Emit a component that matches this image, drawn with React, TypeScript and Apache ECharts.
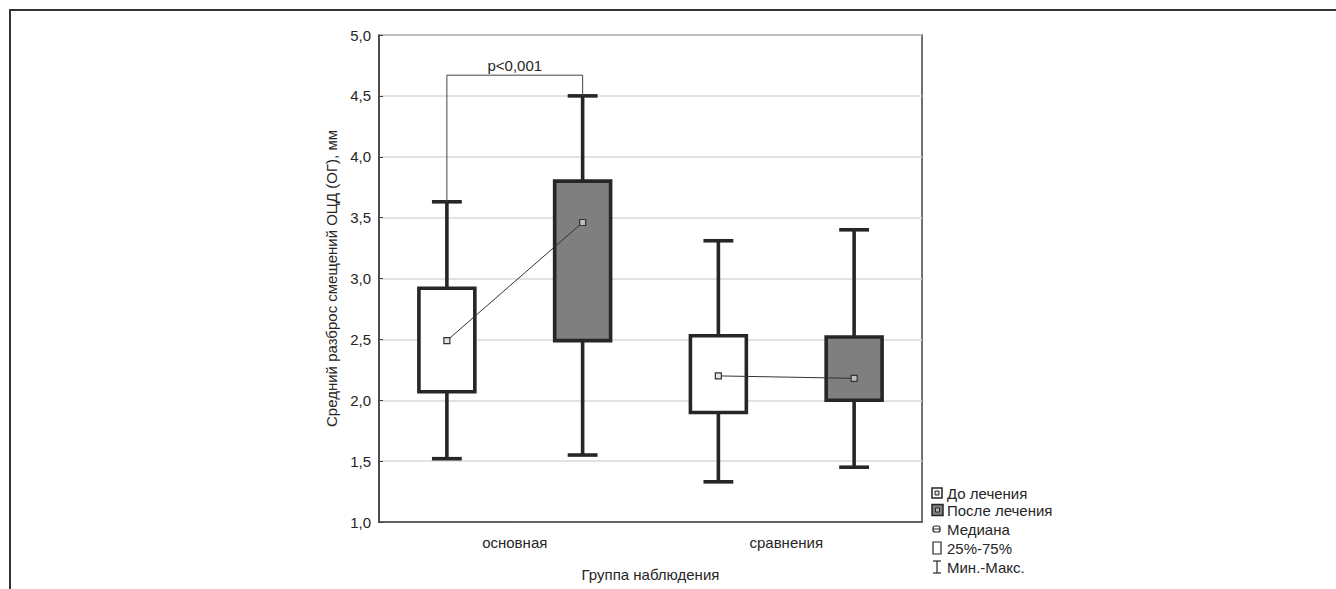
import React, { useEffect, useRef } from "react";
import * as echarts from "echarts";

const categories = ["основная", "сравнения"];
// [min, q1, median, q3, max]
const beforeStats = [
  [1.52, 2.07, 2.49, 2.92, 3.63],
  [1.33, 1.9, 2.2, 2.53, 3.31],
];
const afterStats = [
  [1.55, 2.49, 3.46, 3.8, 4.5],
  [1.45, 2.0, 2.18, 2.52, 3.4],
];
const bracketLevel = 4.67;
const pText = "p<0,001";
const legendItems = ["До лечения", "После лечения", "Медиана", "25%-75%", "Мин.-Макс."];
const yTicks = { min: 1, max: 5, interval: 0.5 };

const FONT = "'Liberation Sans', Arial, sans-serif";
const DARK = "#262626";
const TEXT = "#262626";
const GRAY_FILL = "#7f7f7f";
const OFFSET = 0.25;
const BOX_W = 0.206;
const CAP_W = 0.11;

function boxRender(offsetFrac: number, fill: string) {
  return (params: any, api: any) => {
    const cat = api.value(0);
    const band = api.size([1, 0])[0];
    const x = api.coord([cat, 1])[0] + offsetFrac * band;
    const y = (v: number) => api.coord([cat, v])[1];
    const yMin = y(api.value(1));
    const yQ1 = y(api.value(2));
    const yQ3 = y(api.value(4));
    const yMax = y(api.value(5));
    const bw = band * BOX_W;
    const cw = band * CAP_W;
    const st = { stroke: DARK, lineWidth: 3.6, fill: "none" };
    return {
      type: "group",
      children: [
        { type: "line", shape: { x1: x, y1: yMax, x2: x, y2: yQ3 }, style: st },
        { type: "line", shape: { x1: x, y1: yQ1, x2: x, y2: yMin }, style: st },
        { type: "line", shape: { x1: x - cw / 2, y1: yMax, x2: x + cw / 2, y2: yMax }, style: st },
        { type: "line", shape: { x1: x - cw / 2, y1: yMin, x2: x + cw / 2, y2: yMin }, style: st },
        {
          type: "rect",
          shape: { x: x - bw / 2, y: yQ3, width: bw, height: yQ1 - yQ3 },
          style: { fill, stroke: DARK, lineWidth: 3.6 },
        },
      ],
    };
  };
}

function medianRender(params: any, api: any) {
  const cat = api.value(0);
  const band = api.size([1, 0])[0];
  const cx = api.coord([cat, 1])[0];
  const x1 = cx - OFFSET * band;
  const x2 = cx + OFFSET * band;
  const y1 = api.coord([cat, api.value(1)])[1];
  const y2 = api.coord([cat, api.value(2)])[1];
  const s = 6;
  return {
    type: "group",
    children: [
      { type: "line", shape: { x1, y1, x2, y2 }, style: { stroke: "#333", lineWidth: 1 } },
      { type: "rect", shape: { x: x1 - s / 2, y: y1 - s / 2, width: s, height: s }, style: { fill: "#e6e6e6", stroke: "#333", lineWidth: 1.2 } },
      { type: "rect", shape: { x: x2 - s / 2, y: y2 - s / 2, width: s, height: s }, style: { fill: "#bdbdbd", stroke: "#333", lineWidth: 1.2 } },
    ],
  };
}

function bracketRender(params: any, api: any) {
  const cat = api.value(0);
  const band = api.size([1, 0])[0];
  const cx = api.coord([cat, 1])[0];
  const x1 = cx - OFFSET * band;
  const x2 = cx + OFFSET * band;
  const yA = api.coord([cat, api.value(1)])[1];
  const yB = api.coord([cat, api.value(2)])[1];
  const yT = api.coord([cat, api.value(3)])[1];
  return {
    type: "group",
    children: [
      {
        type: "polyline",
        shape: { points: [[x1, yA], [x1, yT], [x2, yT], [x2, yB]] },
        style: { stroke: "#444", lineWidth: 1, fill: "none" },
      },
      {
        type: "text",
        x: (x1 + x2) / 2,
        y: yT - 2,
        style: { text: pText, fill: TEXT, font: `15px ${FONT}`, textAlign: "center", textVerticalAlign: "bottom" },
      },
    ],
  };
}

export default function App() {
  const ref = useRef<HTMLDivElement>(null);
  useEffect(() => {
    document.body.style.margin = "0";
    if (!ref.current) return;
    const chart = echarts.init(ref.current, null, { renderer: "svg" });

    const boxData = (stats: number[][]) => stats.map((s, i) => [i, ...s]);
    const medianData = categories.map((_, i) => [i, beforeStats[i][2], afterStats[i][2]]);
    const bracketData = [[0, beforeStats[0][4], afterStats[0][4], bracketLevel]];

    const lx = 932;
    const rowY = [493, 510, 529, 548, 567];
    const legendGraphics: any[] = [
      {
        type: "polyline",
        shape: { points: [[10, 589], [10, 10], [1336, 10]] },
        style: { stroke: "#333", lineWidth: 2, fill: "none" },
      },
      { type: "rect", shape: { x: lx, y: rowY[0] - 5, width: 10, height: 10 }, style: { fill: "#fff", stroke: DARK, lineWidth: 1.5 } },
      { type: "rect", shape: { x: lx + 3, y: rowY[0] - 2, width: 4, height: 4 }, style: { fill: "#ddd", stroke: DARK, lineWidth: 1 } },
      { type: "rect", shape: { x: lx, y: rowY[1] - 5.5, width: 11, height: 11 }, style: { fill: GRAY_FILL, stroke: DARK, lineWidth: 1.5 } },
      { type: "rect", shape: { x: lx + 3.5, y: rowY[1] - 2, width: 4, height: 4 }, style: { fill: "#bbb", stroke: DARK, lineWidth: 1 } },
      { type: "rect", shape: { x: lx + 1, y: rowY[2] - 3, width: 7, height: 6, r: 2 }, style: { fill: "#fff", stroke: DARK, lineWidth: 1.2 } },
      { type: "line", shape: { x1: lx + 1, y1: rowY[2], x2: lx + 8, y2: rowY[2] }, style: { stroke: DARK, lineWidth: 1 } },
      { type: "rect", shape: { x: lx + 1, y: rowY[3] - 6, width: 8, height: 12 }, style: { fill: "#fff", stroke: DARK, lineWidth: 1.2 } },
      { type: "line", shape: { x1: lx + 5, y1: rowY[4] - 6, x2: lx + 5, y2: rowY[4] + 6 }, style: { stroke: DARK, lineWidth: 1.2 } },
      { type: "line", shape: { x1: lx + 1, y1: rowY[4] - 6, x2: lx + 9, y2: rowY[4] - 6 }, style: { stroke: DARK, lineWidth: 1.2 } },
      { type: "line", shape: { x1: lx + 1, y1: rowY[4] + 6, x2: lx + 9, y2: rowY[4] + 6 }, style: { stroke: DARK, lineWidth: 1.2 } },
    ];
    legendItems.forEach((t, i) => {
      legendGraphics.push({
        type: "text",
        x: lx + 15,
        y: rowY[i],
        style: { text: t, fill: TEXT, font: `15px ${FONT}`, textVerticalAlign: "middle" },
      });
    });

    chart.setOption({
      animation: false,
      backgroundColor: "#fff",
      textStyle: { fontFamily: FONT },
      grid: {
        left: 379,
        right: 414,
        top: 35,
        bottom: 67,
        show: true,
        borderColor: "#444",
        borderWidth: 1.5,
        backgroundColor: "transparent",
      },
      xAxis: {
        type: "category",
        data: categories,
        name: "Группа наблюдения",
        nameLocation: "middle",
        nameGap: 45,
        nameTextStyle: { color: TEXT, fontSize: 15, fontFamily: FONT },
        axisLine: { lineStyle: { color: "#444", width: 1.5 } },
        axisTick: { alignWithLabel: true, inside: true, length: 4, lineStyle: { color: "#444" } },
        axisLabel: { color: TEXT, fontSize: 15, fontFamily: FONT, margin: 13 },
        splitLine: { show: false },
      },
      yAxis: {
        type: "value",
        min: yTicks.min,
        max: yTicks.max,
        interval: yTicks.interval,
        name: "Средний разброс смещений ОЦД (ОГ), мм",
        nameLocation: "middle",
        nameGap: 40,
        nameTextStyle: { color: TEXT, fontSize: 15, fontFamily: FONT },
        axisLine: { show: true, lineStyle: { color: "#444", width: 1.5 } },
        axisTick: { show: true, inside: true, length: 4, lineStyle: { color: "#444" } },
        axisLabel: {
          color: TEXT,
          fontSize: 15,
          fontFamily: FONT,
          margin: 8,
          formatter: (v: number) => v.toFixed(1).replace(".", ","),
        },
        splitLine: { show: true, lineStyle: { color: "#d9d9d9", width: 1.5 } },
      },
      series: [
        {
          type: "custom",
          name: "До лечения",
          renderItem: boxRender(-OFFSET, "#fff"),
          data: boxData(beforeStats),
          encode: { x: 0, y: [1, 2, 3, 4, 5] },
          z: 2,
        },
        {
          type: "custom",
          name: "После лечения",
          renderItem: boxRender(OFFSET, GRAY_FILL),
          data: boxData(afterStats),
          encode: { x: 0, y: [1, 2, 3, 4, 5] },
          z: 2,
        },
        {
          type: "custom",
          name: "Медиана",
          renderItem: medianRender,
          data: medianData,
          encode: { x: 0, y: [1, 2] },
          z: 3,
        },
        {
          type: "custom",
          name: "bracket",
          renderItem: bracketRender,
          data: bracketData,
          encode: { x: 0, y: [1, 2, 3] },
          z: 3,
        },
      ],
      graphic: legendGraphics,
    });
    return () => chart.dispose();
  }, []);
  return <div ref={ref} style={{ width: 1336, height: 589 }} />;
}
